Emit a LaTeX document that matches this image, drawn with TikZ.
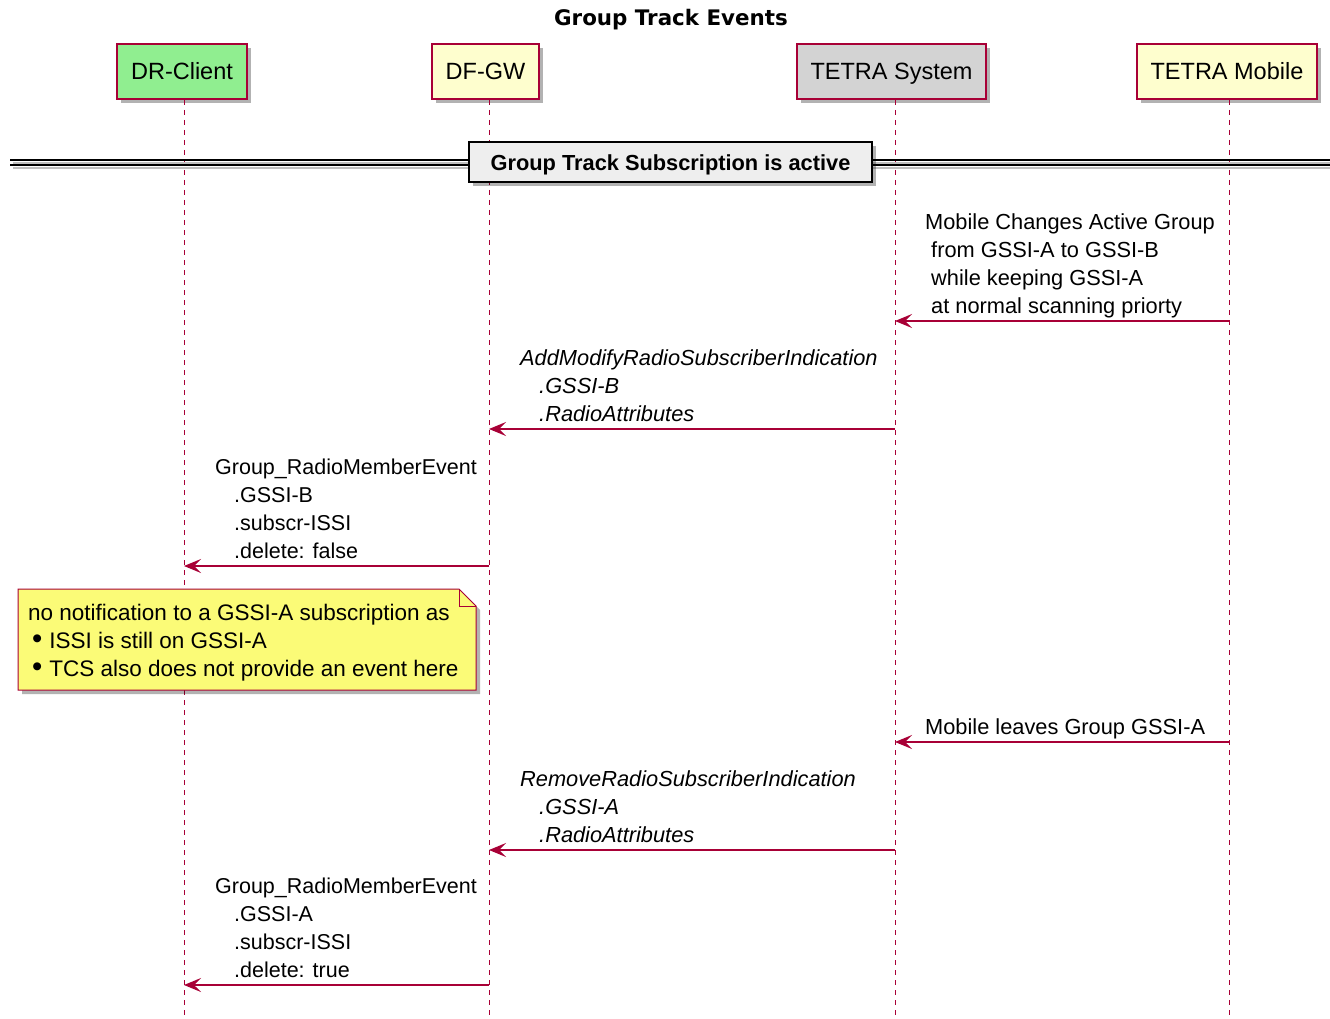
\documentclass[tikz,border=0pt]{standalone}
\usepackage{fontspec}
\setmainfont{Liberation Sans}
\newfontfamily\titlefont{DejaVu Sans}
\usetikzlibrary{arrows.meta,shadows}
\definecolor{lc}{HTML}{A80036}
\definecolor{pfill}{HTML}{FEFECE}
\definecolor{greenfill}{HTML}{90EE90}
\definecolor{grayfill}{HTML}{D3D3D3}
\definecolor{notefill}{HTML}{FBFB77}
\definecolor{divfill}{HTML}{EEEEEE}
\newcommand\msgfont{\fontsize{21.8}{28}\selectfont}
\newcommand\smsgfont{\fontsize{21.5}{28}\selectfont}
\newcommand\notefont{\fontsize{22.5}{28}\selectfont}
\newcommand\nbullet{\hspace{4pt}\raisebox{-0.5pt}{\scalebox{1.3}{•}}\hspace{7pt}}
\tikzset{
  pbox/.style={draw=lc, line width=2pt, minimum height=55pt, inner sep=0pt,
    font=\fontsize{23.5}{28}\selectfont, text=black,
    drop shadow={shadow xshift=4pt, shadow yshift=-4pt, fill=black, opacity=0.3}},
  ptext/.style={inner sep=0pt, anchor=base, font=\fontsize{23.5}{28}\selectfont},
  lifeline/.style={draw=lc, line width=1pt, dash pattern=on 5pt off 5pt},
  msg/.style={draw=lc, line width=1.3pt, -{Stealth[length=17pt,width=14pt,inset=7pt]}},
  lbl/.style={inner sep=0pt, font=\msgfont, text=black, anchor=base west},
  divbox/.style={draw=black, line width=2.2pt, fill=divfill, minimum width=403pt,
    minimum height=40pt, inner sep=0pt, font=\bfseries\msgfont,
    drop shadow={shadow xshift=4pt, shadow yshift=-4pt, fill=black, opacity=0.3}},
  divline/.style={draw=black, line width=1.4pt},
  divshadow/.style={draw=black!25, line width=1.4pt},
  notebox/.style={draw=lc, line width=1pt, fill=notefill},
}
\begin{document}
\begin{tikzpicture}[x=1pt,y=-1pt]
\useasboundingbox (0,0) rectangle (1330,1019);
\fill[white] (0,0) rectangle (1330,1019);

% title
\node[inner sep=0pt, anchor=base, font=\titlefont\bfseries\fontsize{21.4}{26}\selectfont] (title) at (671,26) {Group Track Events};

% lifeline ends
\coordinate (drb) at (184,1019);
\coordinate (dfb) at (489,1019);
\coordinate (tsb) at (895,1019);
\coordinate (tmb) at (1229,1019);

% participants
\node[pbox, fill=greenfill, minimum width=130pt] (dr) at (182,71.5) {};
\node[pbox, fill=pfill, minimum width=107pt] (df) at (485.5,71.5) {};
\node[pbox, fill=grayfill, minimum width=189pt] (ts) at (891.5,71.5) {};
\node[pbox, fill=pfill, minimum width=180pt] (tm) at (1227,71.5) {};
\node[ptext] (drt) at (182,80) {DR-Client};
\node[ptext] (dft) at (485.5,80) {DF-GW};
\node[ptext] (tst) at (891.5,80) {TETRA System};
\node[ptext] (tmt) at (1227,80) {TETRA Mobile};

% lifelines
\draw[lifeline] (dr.south -| drb) -- (drb);
\draw[lifeline] (df.south -| dfb) -- (dfb);
\draw[lifeline] (ts.south -| tsb) -- (tsb);
\draw[lifeline] (tm.south -| tmb) -- (tmb);

% divider
\coordinate (dl1) at (10,160); \coordinate (dr1) at (1330,160);
\coordinate (dl2) at (10,165); \coordinate (dr2) at (1330,165);
\draw[divshadow] ([shift={(3,3)}]dl1) -- ([shift={(3,3)}]dr1);
\draw[divshadow] ([shift={(3,3)}]dl2) -- ([shift={(3,3)}]dr2);
\draw[divline] (dl1) -- (dr1);
\draw[divline] (dl2) -- (dr2);
\node[divbox] (div) at (670.5,162) {};
\node[inner sep=0pt, anchor=base, font=\bfseries\msgfont] (divt) at (670.5,171) {Group Track Subscription is active};

% message 1
\coordinate (m1a) at (1229,321); \coordinate (m1b) at (895,321);
\draw[msg] (m1a) -- (m1b);
\node[lbl] (l1) at (925,313) {\begin{tabular}[b]{@{}l@{}}Mobile Changes Active Group\\\hspace{6pt}from GSSI-A to GSSI-B\\\hspace{6pt}while keeping GSSI-A\\\hspace{6pt}at normal scanning priorty\end{tabular}};

% message 2
\coordinate (m2a) at (895,429); \coordinate (m2b) at (489,429);
\draw[msg] (m2a) -- (m2b);
\node[lbl, font=\itshape\msgfont] (l2) at (520,421) {\begin{tabular}[b]{@{}l@{}}AddModifyRadioSubscriberIndication\\\hspace{19pt}.GSSI-B\\\hspace{19pt}.RadioAttributes\end{tabular}};

% message 3
\coordinate (m3a) at (489,566); \coordinate (m3b) at (184,566);
\draw[msg] (m3a) -- (m3b);
\node[lbl, font=\smsgfont] (l3) at (215,558) {\begin{tabular}[b]{@{}l@{}}Group\_RadioMemberEvent\\\hspace{19pt}.GSSI-B\\\hspace{19pt}.subscr-ISSI\\\hspace{19pt}.delete: false\end{tabular}};

% note
\coordinate (n1) at (18,589); \coordinate (n2) at (459,589); \coordinate (n3) at (476,606);
\coordinate (n4) at (476,690); \coordinate (n5) at (18,690); \coordinate (nf) at (459,606);
\fill[black, opacity=0.3] ([shift={(4,4)}]n1) -- ([shift={(4,4)}]n2) -- ([shift={(4,4)}]n3) -- ([shift={(4,4)}]n4) -- ([shift={(4,4)}]n5) -- cycle;
\draw[notebox] (n1) -- (n2) -- (n3) -- (n4) -- (n5) -- cycle;
\draw[draw=lc, line width=1pt] (n2) -- (nf) -- (n3);
\node[lbl, font=\notefont] (note) at (28,620) {\begin{tabular}[t]{@{}l@{}}no notification to a GSSI-A subscription as\\\nbullet ISSI is still on GSSI-A\\\nbullet TCS also does not provide an event here\end{tabular}};

% message 4
\coordinate (m4a) at (1229,742); \coordinate (m4b) at (895,742);
\draw[msg] (m4a) -- (m4b);
\node[lbl] (l4) at (925,734) {Mobile leaves Group GSSI-A};

% message 5
\coordinate (m5a) at (895,850); \coordinate (m5b) at (489,850);
\draw[msg] (m5a) -- (m5b);
\node[lbl, font=\itshape\msgfont] (l5) at (520,842) {\begin{tabular}[b]{@{}l@{}}RemoveRadioSubscriberIndication\\\hspace{19pt}.GSSI-A\\\hspace{19pt}.RadioAttributes\end{tabular}};

% message 6
\coordinate (m6a) at (489,985); \coordinate (m6b) at (184,985);
\draw[msg] (m6a) -- (m6b);
\node[lbl, font=\smsgfont] (l6) at (215,977) {\begin{tabular}[b]{@{}l@{}}Group\_RadioMemberEvent\\\hspace{19pt}.GSSI-A\\\hspace{19pt}.subscr-ISSI\\\hspace{19pt}.delete: true\end{tabular}};
\end{tikzpicture}
\end{document}
